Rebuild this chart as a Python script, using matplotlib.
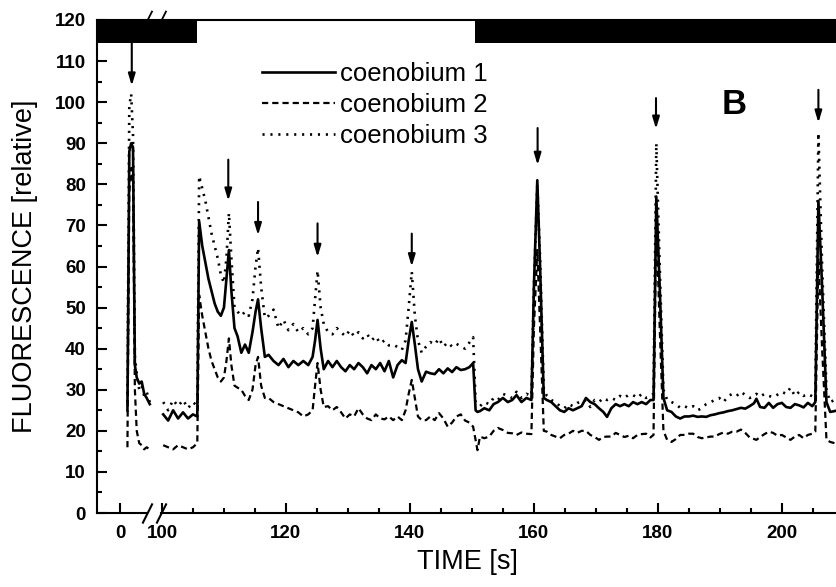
import numpy as np
import matplotlib
matplotlib.use("Agg")
import matplotlib.pyplot as plt

plt.rcParams["font.family"] = ["Liberation Sans", "DejaVu Sans"]

# ── Data ───────────────────────────────────────────────────────────
# short record around t = 0 (left of the axis break)
T_PRE = [1.2, 1.5, 1.8, 2.1, 2.4, 2.7, 3.1, 3.5, 3.9, 4.3, 4.8]
C1_PRE = [25, 88, 90, 89, 36, 33, 31.5, 32, 29, 28, 26.5]
C2_PRE = [16, 78, 84, 80, 30, 20, 17, 16.5, 15.5, 16, 15.5]
C3_PRE = [27, 99, 102, 92, 38, 34, 30, 31, 28.5, 29.5, 27]

# main record, 100 s onwards
T_MAIN = [100.2, 101.0, 101.8, 102.6, 103.4, 104.2, 105.0, 105.7,
          106.0, 106.5, 107.0, 107.5, 108.0, 108.5, 109.0, 109.5, 110.0,
          110.4, 110.8, 111.2, 111.7, 112.2, 112.8, 113.4, 114.0, 114.6,
          115.1, 115.5, 116.0, 116.6, 117.2, 118.0, 118.8, 119.6, 120.4,
          121.2, 122.0, 122.8, 123.6, 124.3, 124.7, 125.1, 125.6, 126.1,
          126.8, 127.5, 128.2, 128.9, 129.6, 130.3, 131.0, 131.7, 132.4,
          133.1, 133.8, 134.5, 135.2, 135.9, 136.6, 137.3, 138.0, 138.7,
          139.3, 139.8, 140.3, 140.8, 141.3, 141.9, 142.6, 143.3, 144.0,
          144.7, 145.4, 146.1, 146.8, 147.5, 148.2, 148.9, 149.6, 150.2,
          150.6, 150.9, 151.3, 152.0, 152.8, 153.5, 154.2, 155.0, 155.8,
          156.5, 157.2, 158.0, 158.8, 159.6, 160.0, 160.55, 161.0, 161.6,
          162.1, 162.8, 163.5, 164.2, 164.9, 165.6, 166.3, 167.0, 167.7,
          168.4, 169.1, 169.8, 170.5, 171.2, 171.8, 172.5, 173.2, 173.9,
          174.6, 175.3, 176.0, 176.7, 177.4, 178.1, 178.8, 179.3, 179.75,
          180.3, 180.9, 181.5, 182.2, 182.9, 183.6, 184.3, 185.0, 185.7,
          186.4, 187.1, 187.8, 188.5, 189.2, 189.9, 190.6, 191.3, 192.0,
          192.7, 193.4, 194.1, 194.8, 195.5, 195.9, 196.5, 197.2, 197.9,
          198.6, 199.3, 200.0, 200.7, 201.4, 202.1, 202.8, 203.5, 204.2,
          204.9, 205.4, 205.9, 206.5, 207.2, 207.8, 208.5, 209.0]

C1_MAIN = [24, 22.5, 25, 23, 24.5, 23, 24, 23.5,
           71, 65, 61, 57, 54, 51, 49, 48, 50,
           57, 64, 54, 45, 43, 39, 41, 39, 44,
           49, 52, 45, 38, 38.5, 37, 36, 37.5, 35.5,
           37, 36, 37, 36, 38, 42, 47, 40, 35,
           37, 35.5, 37, 35.5, 34.5, 36, 35, 36.5, 35.5,
           34, 36, 35, 36.5, 34.5, 37, 33, 36, 37.2,
           36.5, 42, 46.5, 41, 35, 32, 34.4, 34, 33.8,
           35, 34, 35.2, 34.3, 35.5, 34.8, 35, 35.5, 36.5,
           25, 24.6, 24.8, 25.5, 25, 26.5, 27, 28, 27,
           27.5, 28.7, 27, 28, 27.5, 55, 81, 60, 28,
           27.5, 27, 26, 25, 24.6, 25.5, 25, 25.5, 26,
           28, 27, 26.5, 25.5, 24.6, 23.4, 25.5, 26.5, 26,
           26.5, 26, 27, 26.5, 27, 26.5, 27.5, 27.5, 77,
           55, 28, 25, 24.6, 23.5, 23, 23.5, 23.5, 23.7,
           23.4, 23.5, 23.4, 23.8, 24, 24.3, 24.5, 24.8, 25,
           25.3, 25.6, 25.4, 26, 26.7, 27.8, 25.8, 25.6, 26.8,
           25.6, 26.5, 26.8, 25.8, 25.6, 26.5, 26.2, 25.7, 26.8,
           26, 27, 76, 55, 27, 24.6, 24.8, 25]

C2_MAIN = [16.5, 16, 15.5, 16.5, 16, 15.5, 16, 17,
           53, 48, 44, 40, 37, 35, 33, 32, 33,
           37, 42.5, 36, 31, 30.5, 30, 28.5, 27.5, 30,
           36, 38, 31, 28, 28, 27, 26.5, 26, 25.5,
           25, 24.5, 23.5, 24, 25, 31, 36.5, 30, 25.8,
           26, 25, 25.8, 24.5, 23, 24, 23.5, 25.5, 24,
           23, 22.6, 24, 23, 22.8, 23.5, 22.6, 23.5, 22.6,
           25, 29, 32.4, 28, 23.5, 22.6, 22.6, 23.5, 22.6,
           24.3, 23, 21, 22, 23.5, 24, 22.5, 22, 21,
           17.8, 15.3, 18.6, 18.2, 18.6, 20, 20.7, 20.2, 19.5,
           19.4, 19, 19.6, 19.3, 19.2, 45, 64, 45, 20,
           19.8, 19, 18.6, 18.2, 19, 19.3, 20, 19.5, 20,
           20, 19, 18.5, 17.8, 18.5, 18.6, 18.6, 19.5, 19,
           18.5, 18.8, 18.2, 19, 19.2, 19.3, 18.4, 19, 72,
           45, 20, 17.8, 17.3, 18, 19, 19, 19.3, 19.3,
           18.5, 18.2, 18.4, 18.6, 18.6, 19.2, 19.6, 19.3, 19.8,
           19.8, 20.3, 19.5, 18.4, 18, 17.8, 18.5, 19.2, 19.8,
           19.5, 18.8, 19, 18.4, 17.8, 18.6, 19, 18.2, 19,
           19.3, 19.8, 62, 40, 17.8, 17.3, 17, 17.5]

C3_MAIN = [27, 25, 27.5, 26, 27.5, 25.5, 27, 26,
           82, 79, 76, 72, 68, 65, 62, 58, 56,
           62, 73, 62, 50, 49, 48, 49, 48, 52,
           60, 64.5, 55, 47.5, 48, 49.5, 45, 47, 44.5,
           46, 44, 45, 43.5, 45, 52, 59, 50, 46,
           44, 43.5, 45, 44, 43, 44.5, 43, 44, 42.5,
           43.5, 42, 43, 41.3, 42, 40.8, 41, 40.4, 39.7,
           42, 50, 58.7, 48, 42, 39, 40.5, 41.6, 41,
           42.5, 40.5, 41.5, 40.5, 41.2, 40.5, 40, 41.5, 42.8,
           27, 26.5, 26, 27, 26.5, 28, 27.5, 29, 28.5,
           28, 29.5, 28, 29, 28.5, 55, 80, 62, 30,
           28.5, 27.5, 27, 26, 25.5, 26.5, 26, 26.8, 27,
           27.5, 25.8, 27.5, 27, 28, 27.5, 28, 27.5, 28.5,
           28, 28.8, 28.7, 28, 29, 28, 28.5, 29, 90,
           60, 30, 27.5, 27, 26.5, 25.6, 26, 25.5, 26,
           25, 25.5, 26.5, 27, 27.5, 28, 27, 28.4, 29,
           28.5, 29.5, 28.7, 28, 28.4, 29, 28.3, 29, 28.5,
           28.2, 28.8, 29.5, 29, 30.5, 28.5, 29.5, 28.5, 29,
           28.4, 29, 92.5, 60, 30, 27, 27.5, 27.5]

LABELS = ["coenobium 1", "coenobium 2", "coenobium 3"]

# stimulus arrows: time, arrow start, arrow tip
ARROW_T = [1.9, 110.7, 115.5, 125.1, 140.3, 160.6, 179.7, 205.9]
ARROW_TOP = [114.5, 86, 75.7, 70.5, 68, 93.7, 101, 103]
ARROW_TIP = [104, 76, 67.6, 62.3, 60, 84.7, 93.5, 95]

# dark periods (black bar at the top)
DARK = [(-10, 105.7), (150.5, 215)]

# ── Broken time axis: 0..5 s squeezed next to 100 s ───────────────
BREAK_LO, BREAK_HI, SHIFT = 5.0, 99.8, 93.23
_T = [-1000, BREAK_LO, BREAK_HI, 1000]
_P = [-1000 + SHIFT, BREAK_LO + SHIFT, BREAK_HI, 1000]


def fwd(t):
    return np.interp(t, _T, _P)


def inv(p):
    return np.interp(p, _P, _T)


fig = plt.figure(figsize=(8.37, 5.87), dpi=100)
ax = fig.add_axes([97 / 837, 1 - 513 / 587, 740 / 837, 493 / 587])
ax.set_xscale("function", functions=(fwd, inv))
ax.set_xlim(-3.71, 208.9)
ax.set_ylim(0, 120)

styles = [dict(ls="-", lw=1.9),
          dict(ls=(0, (2.8, 1.8)), lw=1.6),
          dict(ls=(0, (0.8, 2.2)), lw=1.9)]
pre = [C1_PRE, C2_PRE, C3_PRE]
main = [C1_MAIN, C2_MAIN, C3_MAIN]
handles = [None] * 3
for i in [2, 1, 0]:
    ax.plot(T_PRE, pre[i], color="k", **styles[i])
    handles[i], = ax.plot(T_MAIN, main[i], color="k", label=LABELS[i], **styles[i])

for t0, t1 in DARK:
    ax.fill_between([t0, t1], 114.5, 120, color="k", lw=0)

for t, y0, y1 in zip(ARROW_T, ARROW_TOP, ARROW_TIP):
    ax.annotate("", xy=(t, y1), xytext=(t, y0),
                arrowprops=dict(arrowstyle="-|>,head_length=0.5,head_width=0.15",
                                mutation_scale=14, color="k", lw=1.5,
                                shrinkA=0, shrinkB=0))

# axes styling
for s in ["left", "top"]:
    ax.spines[s].set_linewidth(1.5)
ax.spines["right"].set_visible(False)
ax.spines["bottom"].set_linewidth(1.5)
ax.spines["bottom"].set_bounds(99.9, 208.9)
ax.plot([-3.71, 4.35], [0, 0], color="k", lw=1.5, clip_on=False,
        transform=ax.get_xaxis_transform())

# break marks
ax.plot([4.35, 99.92], [0, 0], ls="none", marker=[(-1, -2), (1, 2)], ms=14.5,
        mew=1.5, color="k", clip_on=False, transform=ax.get_xaxis_transform())
ax.plot([4.35, 99.92], [1, 1], ls="none", marker=[(0, 0), (1, 2)], ms=14,
        mew=1.3, color="k", clip_on=False, transform=ax.get_xaxis_transform())

ax.set_xticks([0, 100, 120, 140, 160, 180, 200],
              ["0", "100", "120", "140", "160", "180", "200"])
ax.set_xticks(list(range(105, 210, 5)), minor=True)
ax.set_yticks(range(0, 121, 10))
ax.set_yticks(range(5, 120, 10), minor=True)
ax.tick_params(which="both", direction="in", width=1.5, top=False, right=False)
ax.tick_params(which="major", length=7)
ax.tick_params(which="minor", length=3.5)
ax.tick_params(axis="y", pad=8)
ax.tick_params(axis="x", pad=9)
for lab in ax.get_xticklabels() + ax.get_yticklabels():
    lab.set_fontweight("bold")
    lab.set_fontsize(13.5)

ax.set_xlabel("TIME [s]", fontsize=19.5, labelpad=5)
ax.set_ylabel("FLUORESCENCE [relative]", fontsize=19.5, labelpad=12)

ax.legend(handles=handles, loc="upper left", bbox_to_anchor=(262 / 837, 1 - 62 / 587),
          bbox_transform=fig.transFigure, frameon=False, fontsize=18.5,
          handlelength=2.85, handletextpad=0.2, labelspacing=0.27,
          borderpad=0, borderaxespad=0)

ax.text(0.861, 0.828, "B", transform=ax.transAxes, fontsize=25,
        fontweight="bold", ha="center", va="center")

fig.savefig("out.png", dpi=100)
